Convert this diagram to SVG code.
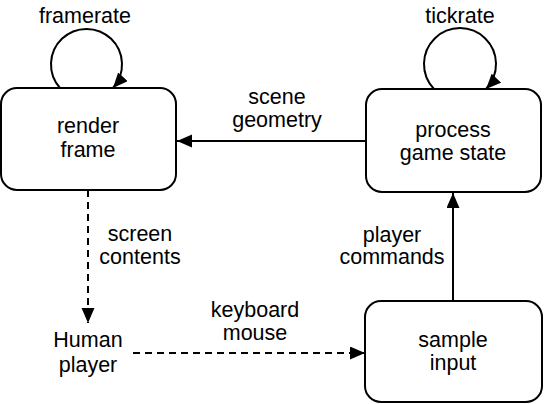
<svg xmlns="http://www.w3.org/2000/svg" width="545" height="404" viewBox="0 0 545 404">
<style>
.box{fill:#fff;stroke:#000;stroke-width:2}
.t{font-family:"Liberation Sans",Arial,sans-serif;font-size:21.5px;fill:#000;text-anchor:middle}
.ln{fill:none;stroke:#000;stroke-width:2}
.d{stroke-dasharray:7 5}
</style>
<defs>
<marker id="ah" markerUnits="userSpaceOnUse" markerWidth="16" markerHeight="14" refX="15" refY="6.5" orient="auto">
<path d="M0,0 L15,6.5 L0,13 z" fill="#000"/>
</marker>
</defs>
<rect width="545" height="404" fill="#fff"/>
<g id="connectors">
<path class="ln" d="M60,88 A35.5,35.5 0 1 1 113,88" marker-end="url(#ah)"/>
<text class="t" x="85" y="23">framerate</text>
<path class="ln" d="M434,89 A36,36 0 1 1 486,89" marker-end="url(#ah)"/>
<text class="t" x="460" y="23">tickrate</text>
<line class="ln" x1="366" y1="141" x2="177" y2="141" marker-end="url(#ah)"/>
<text class="t" x="277" y="104">scene</text>
<text class="t" x="277" y="127">geometry</text>
<line class="ln d" x1="88" y1="190" x2="88" y2="323" marker-end="url(#ah)"/>
<text class="t" x="140" y="241">screen</text>
<text class="t" x="140" y="264">contents</text>
<line class="ln d" x1="133" y1="353" x2="365" y2="353" marker-end="url(#ah)"/>
<text class="t" x="255" y="317">keyboard</text>
<text class="t" x="255" y="340">mouse</text>
<line class="ln" x1="453" y1="301" x2="453" y2="193" marker-end="url(#ah)"/>
<text class="t" x="392" y="242">player</text>
<text class="t" x="392" y="264">commands</text>
</g>
<g id="render-frame">
<rect class="box" x="1" y="88" width="175" height="102" rx="16"/>
<text class="t" x="88" y="133">render</text>
<text class="t" x="88" y="157">frame</text>
</g>
<g id="process-game-state">
<rect class="box" x="366" y="89" width="175" height="103" rx="16"/>
<text class="t" x="453" y="137">process</text>
<text class="t" x="453" y="160">game state</text>
</g>
<g id="sample-input">
<rect class="box" x="365" y="301" width="177" height="101" rx="16"/>
<text class="t" x="453" y="347">sample</text>
<text class="t" x="453" y="370">input</text>
</g>
<g id="human-player">
<text class="t" x="88" y="347">Human</text>
<text class="t" x="88" y="372">player</text>
</g>
</svg>
